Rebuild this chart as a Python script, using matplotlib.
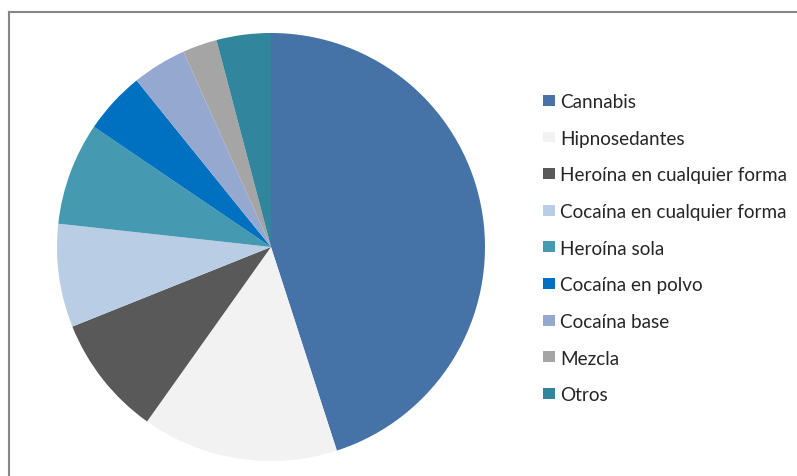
import matplotlib
matplotlib.use("Agg")
import matplotlib.pyplot as plt
from matplotlib.lines import Line2D

categories = [
    "Cannabis",
    "Hipnosedantes",
    "Heroína en cualquier forma",
    "Cocaína en cualquier forma",
    "Heroína sola",
    "Cocaína en polvo",
    "Cocaína base",
    "Mezcla",
    "Otros",
]
values = [45.0, 14.8, 9.1, 7.8, 7.75, 4.7, 4.1, 2.6, 4.1]
colors = [
    "#4573A7", "#F2F2F2", "#595959", "#B9CDE5", "#4599B0",
    "#0070C0", "#95A9D0", "#A5A5A5", "#31859C",
]

W, H, DPI = 797, 477, 100
fig = plt.figure(figsize=(W / DPI, H / DPI), dpi=DPI)
fig.patch.set_facecolor("white")

# pie area: centre (271, 248) px, radius 214 px
cx, cy, r = 271, 248, 214
ax = fig.add_axes([(cx - r) / W, (H - cy - r) / H, 2 * r / W, 2 * r / H])
wedges, _ = ax.pie(values, colors=colors, startangle=90, counterclock=False,
                   radius=1.0, wedgeprops=dict(linewidth=0))
ax.set_xlim(-1, 1)
ax.set_ylim(-1, 1)
ax.set_aspect("equal")
ax.axis("off")

# chart frame (left and top edges visible)
fx, fy = 8.5 / W, 1 - 12.5 / H
fig.add_artist(Line2D([fx, fx], [0, fy], transform=fig.transFigure,
                      color="#878787", lw=1.5))
fig.add_artist(Line2D([fx, 1], [fy, fy], transform=fig.transFigure,
                      color="#878787", lw=1.5))

leg = fig.legend(wedges, categories, loc="upper left",
                 bbox_to_anchor=(543 / W, 1 - 94 / H),
                 frameon=False, handlelength=0.62, handleheight=0.5,
                 handletextpad=0.3, labelspacing=1.04, borderaxespad=0,
                 borderpad=0,
                 prop=dict(family="Lato", size=13.6))
for t in leg.get_texts():
    t.set_color("#262626")

fig.savefig("out.png", dpi=DPI, facecolor="white")
